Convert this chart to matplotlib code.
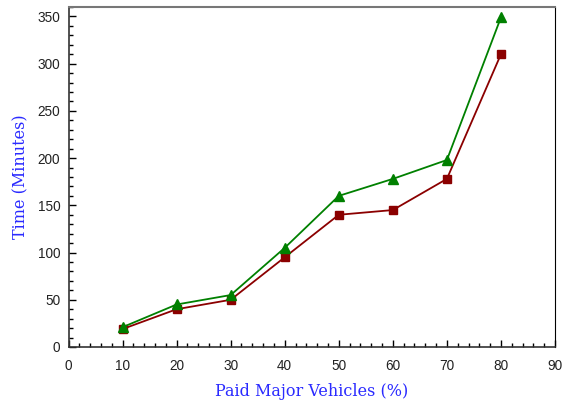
import matplotlib
matplotlib.use("Agg")
import matplotlib.pyplot as plt
from matplotlib.ticker import MultipleLocator

# paid share of major vehicles (%) and time taken (minutes)
paid_pct = [10, 20, 30, 40, 50, 60, 70, 80]
time_red = [19, 40, 50, 95, 140, 145, 178, 310]
time_green = [21, 45, 55, 105, 160, 178, 198, 349]

fig = plt.figure(figsize=(5.63, 4.04), dpi=100)
ax = fig.add_axes([0.1217, 0.1411, 0.8641, 0.8416])

ax.plot(paid_pct, time_red, color="#8b0000", marker="s", markersize=6, linewidth=1.3)
ax.plot(paid_pct, time_green, color="#008000", marker="^", markersize=7.5, linewidth=1.3)

ax.set_xlim(0, 90)
ax.set_ylim(0, 360)
ax.xaxis.set_major_locator(MultipleLocator(10))
ax.xaxis.set_minor_locator(MultipleLocator(2))
ax.yaxis.set_major_locator(MultipleLocator(50))
ax.yaxis.set_minor_locator(MultipleLocator(10))
ax.tick_params(which="both", direction="in", top=False, right=False,
               labelsize=9.8, labelfontfamily="Liberation Sans", labelcolor="#222222")
ax.tick_params(which="major", length=5, width=1)
ax.tick_params(which="minor", length=3, width=1)
ax.tick_params(axis="x", which="major", pad=9)
ax.tick_params(axis="y", which="major", pad=6)

for side in ["left", "bottom"]:
    ax.spines[side].set_linewidth(1.2)
    ax.spines[side].set_color("#333333")
ax.spines["top"].set_color("#777777")
ax.spines["top"].set_linewidth(1.5)
ax.spines["right"].set_linewidth(0.8)

ax.set_xlabel("Paid Major Vehicles (%)", color="#2a2aff", fontsize=11.5,
              family="DejaVu Serif", labelpad=7)
ax.set_ylabel("Time (Minutes)", color="#2a2aff", fontsize=11.5,
              family="DejaVu Serif", labelpad=6)

fig.savefig("out.png", dpi=100)
